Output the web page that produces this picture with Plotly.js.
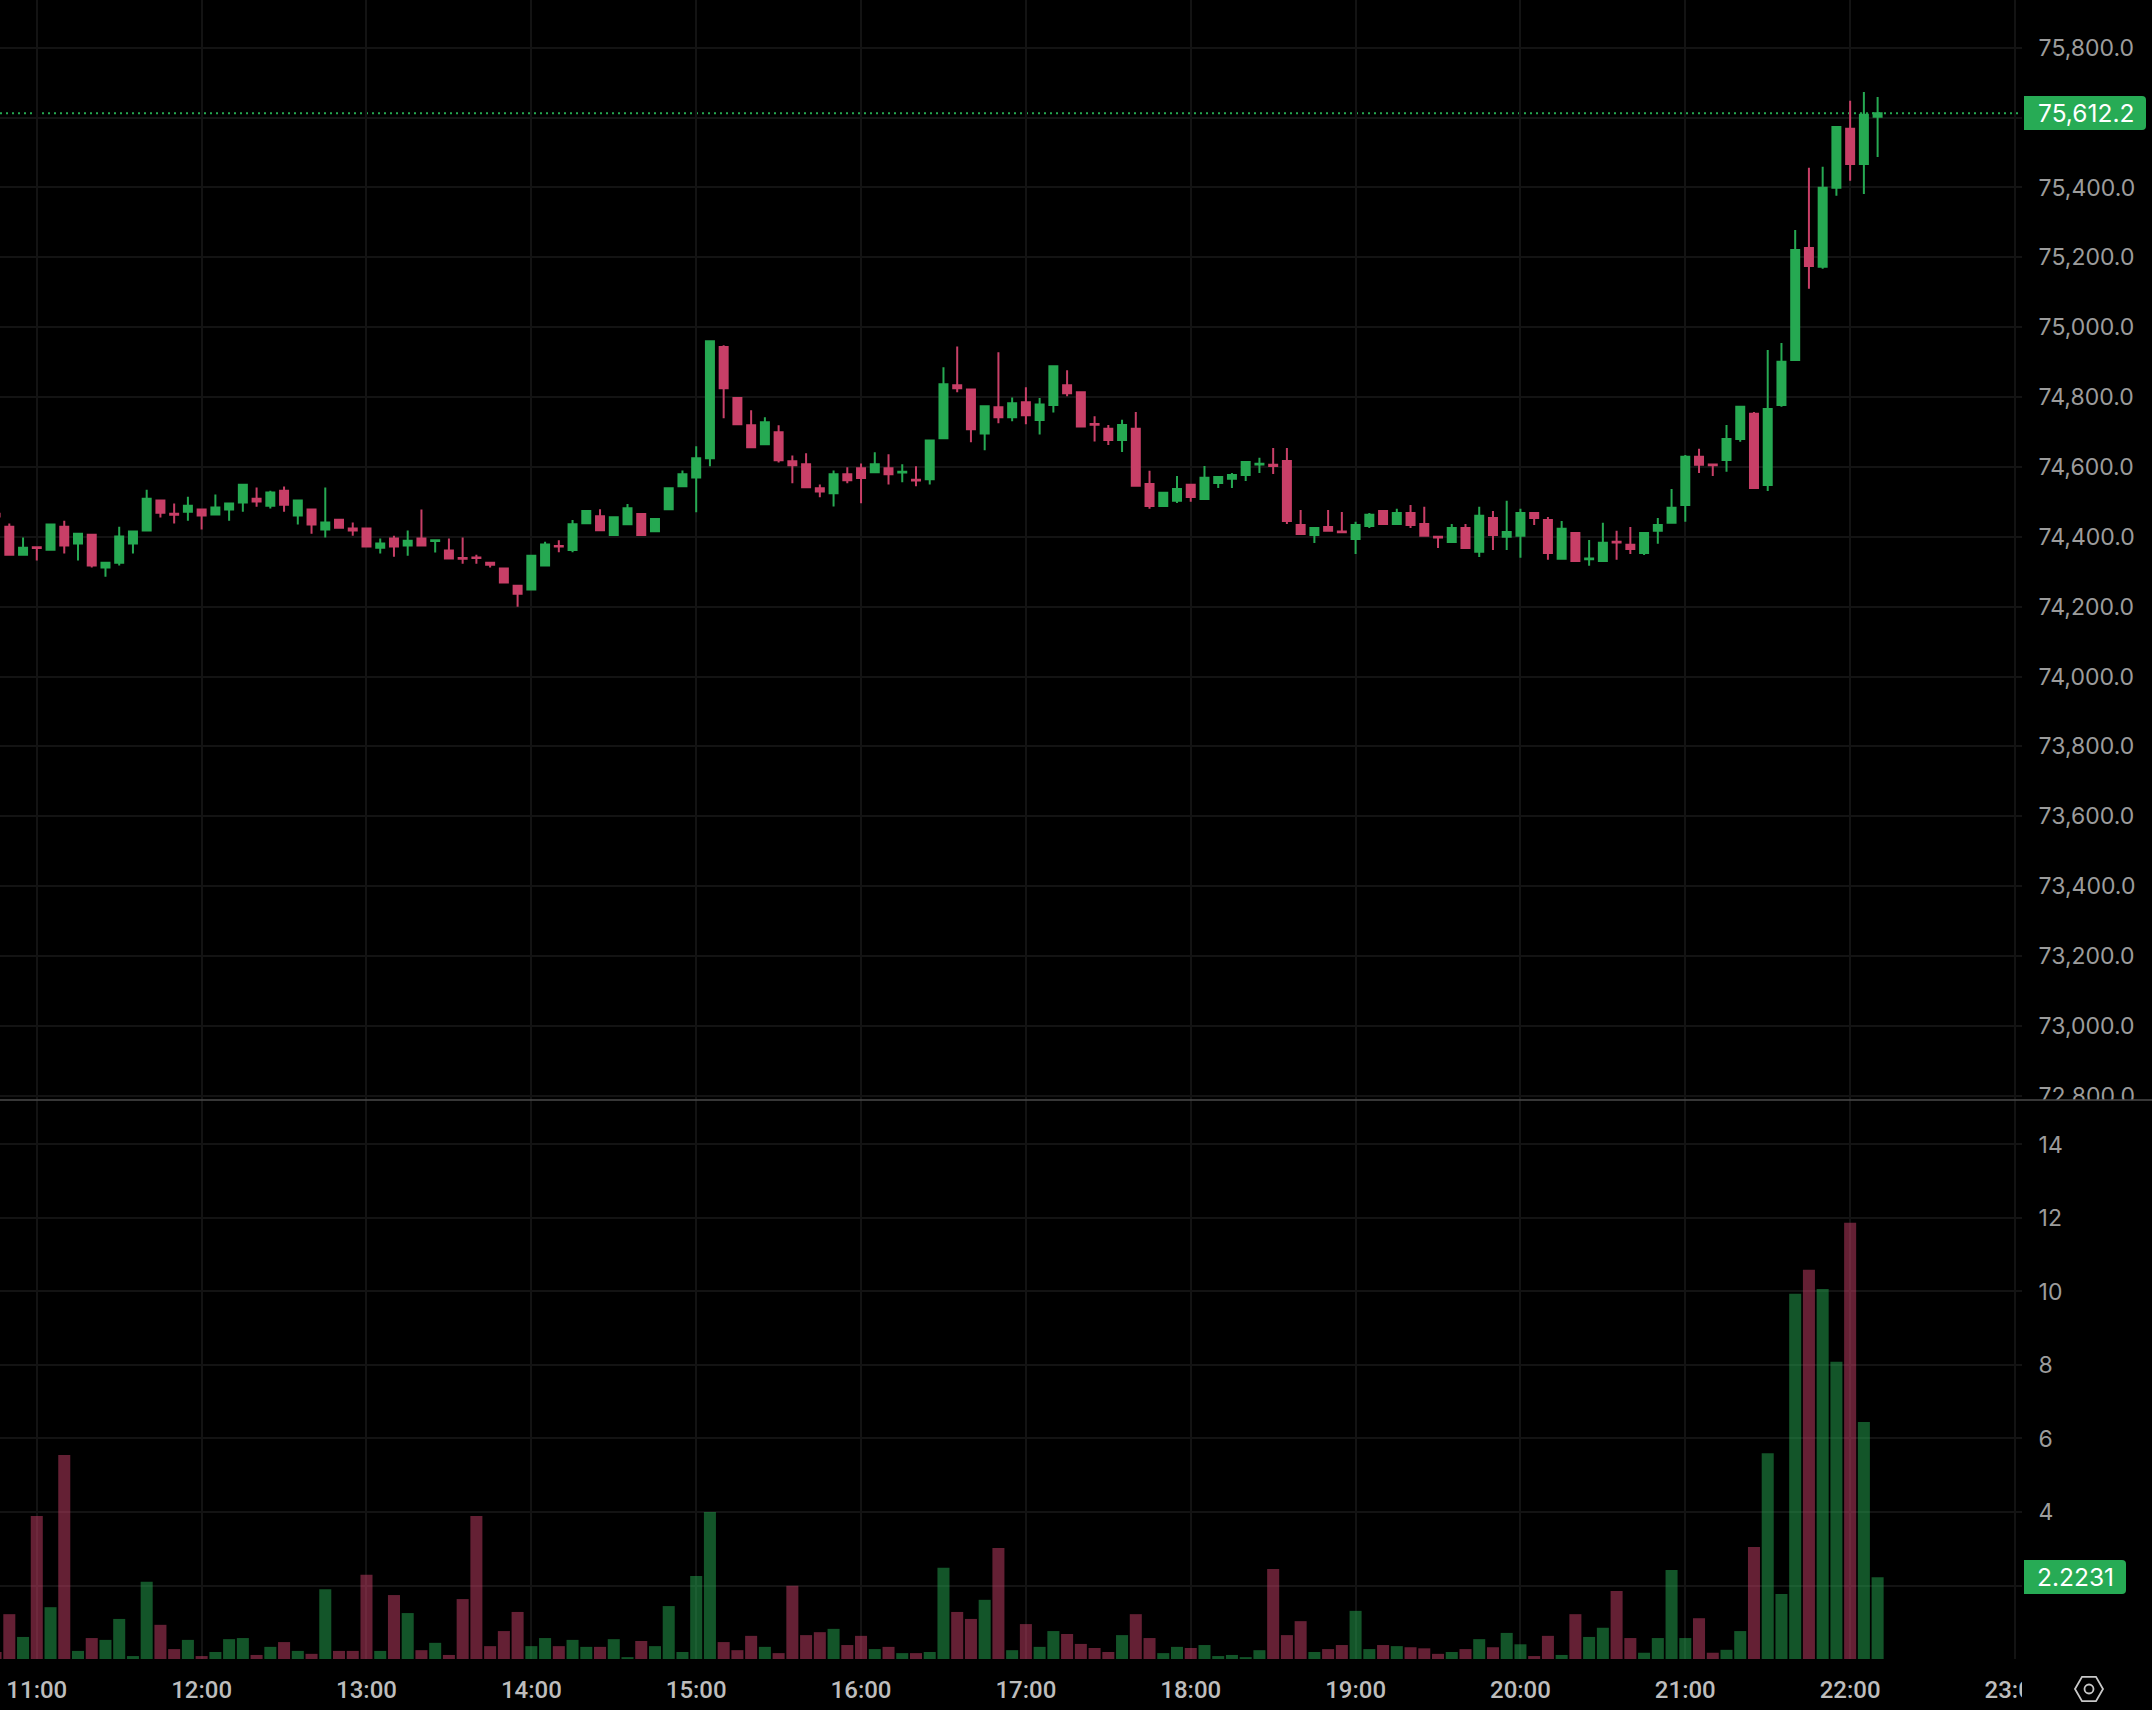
<!DOCTYPE html>
<html>
<head>
<meta charset="utf-8">
<script src="https://cdn.plot.ly/plotly-3.0.1.min.js"></script>
<style>html,body{margin:0;padding:0;background:#000;overflow:hidden}#chart{width:2152px;height:1710px}</style>
</head>
<body>
<div id="chart"></div>
<script>
const day = "2024-01-01 ";
const times = ["10:45","10:50","10:55","11:00","11:05","11:10","11:15","11:20","11:25","11:30","11:35","11:40","11:45","11:50","11:55",
"12:00","12:05","12:10","12:15","12:20","12:25","12:30","12:35","12:40","12:45","12:50","12:55",
"13:00","13:05","13:10","13:15","13:20","13:25","13:30","13:35","13:40","13:45","13:50","13:55",
"14:00","14:05","14:10","14:15","14:20","14:25","14:30","14:35","14:40","14:45","14:50","14:55",
"15:00","15:05","15:10","15:15","15:20","15:25","15:30","15:35","15:40","15:45","15:50","15:55",
"16:00","16:05","16:10","16:15","16:20","16:25","16:30","16:35","16:40","16:45","16:50","16:55",
"17:00","17:05","17:10","17:15","17:20","17:25","17:30","17:35","17:40","17:45","17:50","17:55",
"18:00","18:05","18:10","18:15","18:20","18:25","18:30","18:35","18:40","18:45","18:50","18:55",
"19:00","19:05","19:10","19:15","19:20","19:25","19:30","19:35","19:40","19:45","19:50","19:55",
"20:00","20:05","20:10","20:15","20:20","20:25","20:30","20:35","20:40","20:45","20:50","20:55",
"21:00","21:05","21:10","21:15","21:20","21:25","21:30","21:35","21:40","21:45","21:50","21:55",
"22:00","22:05","22:10"];
const opens = [74466,74429,74349,74370,74363,74429,74381,74406,74312,74326,74381,74418,74504,74466,74472,
74478,74464,74478,74498,74509,74489,74532,74461,74478,74421,74449,74424,
74424,74369,74395,74375,74395,74388,74361,74339,74341,74326,74309,74260,
74249,74318,74374,74362,74439,74459,74405,74436,74465,74416,74479,74545,
74570,74625,74943,74797,74719,74665,74699,74616,74608,74539,74525,74579,
74596,74585,74596,74584,74563,74565,74682,74834,74822,74696,74771,74742,
74785,74734,74777,74834,74814,74723,74709,74677,74709,74551,74488,74503,
74549,74508,74554,74566,74577,74607,74606,74617,74434,74405,74428,74415,
74394,74431,74474,74437,74468,74437,74400,74385,74425,74357,74454,74400,
74403,74468,74448,74337,74411,74336,74331,74386,74377,74354,74417,74440,
74491,74629,74607,74620,74680,74752,74548,74777,74906,75227,75173,75399,
75568,75467,75602];
const highs = [74466,74438,74398,74370,74435,74446,74409,74406,74326,74429,74415,74535,74504,74495,74515,
74478,74521,74495,74549,74541,74532,74544,74504,74478,74541,74449,74441,
74424,74395,74403,74418,74478,74390,74395,74398,74349,74326,74309,74260,
74346,74386,74390,74448,74474,74479,74456,74494,74465,74451,74539,74590,
74659,74960,74948,74797,74762,74742,74719,74633,74639,74550,74590,74599,
74610,74642,74636,74608,74602,74676,74885,74945,74822,74774,74928,74799,
74828,74797,74888,74877,74814,74745,74720,74735,74757,74589,74526,74574,
74549,74603,74571,74583,74614,74626,74654,74654,74477,74425,74477,74471,
74443,74468,74474,74480,74491,74486,74400,74437,74437,74486,74474,74503,
74480,74468,74457,74445,74411,74391,74440,74417,74428,74411,74454,74537,
74634,74652,74607,74720,74772,74757,74935,74955,75278,75456,75459,75573,
75648,75673,75659];
const lows = [74458,74346,74349,74332,74363,74352,74332,74312,74286,74318,74352,74418,74455,74438,74446,
74421,74464,74446,74472,74486,74481,74472,74435,74409,74398,74426,74403,
74372,74352,74343,74346,74375,74355,74338,74323,74323,74312,74269,74200,
74249,74318,74356,74356,74439,74419,74405,74436,74405,74416,74479,74545,
74470,74602,74739,74722,74656,74665,74613,74553,74542,74513,74487,74553,
74496,74585,74550,74556,74545,74550,74682,74814,74671,74648,74725,74731,
74722,74693,74756,74802,74716,74673,74663,74643,74546,74480,74488,74497,
74500,74508,74540,74540,74560,74583,74580,74437,74408,74382,74417,74413,
74351,74425,74437,74437,74425,74403,74368,74385,74368,74342,74362,74362,
74340,74434,74334,74337,74331,74317,74331,74334,74351,74348,74380,74440,
74443,74583,74574,74586,74672,74540,74531,74772,74906,75110,75167,75376,
75419,75381,75487];
const closes = [74458,74349,74369,74368,74435,74375,74409,74318,74326,74401,74415,74509,74469,74463,74489,
74461,74484,74495,74549,74501,74527,74492,74504,74435,74441,74426,74418,
74372,74381,74372,74389,74375,74390,74338,74337,74339,74320,74269,74237,
74346,74378,74372,74436,74474,74419,74456,74482,74405,74451,74539,74579,
74625,74960,74825,74722,74656,74728,74619,74605,74542,74530,74579,74562,
74568,74608,74579,74586,74561,74676,74837,74825,74708,74774,74742,74782,
74748,74779,74888,74811,74716,74721,74677,74720,74546,74488,74526,74537,
74514,74569,74571,74577,74614,74609,74603,74445,74408,74425,74417,74413,
74434,74463,74437,74468,74434,74403,74398,74425,74368,74460,74405,74414,
74468,74454,74354,74423,74331,74338,74383,74384,74365,74411,74434,74483,
74629,74606,74605,74680,74772,74540,74766,74901,75221,75175,75399,75573,
75467,75608,75612.2];
const volumes = [0.19,1.22,0.60,3.89,1.41,5.55,0.22,0.57,0.52,1.09,0.08,2.10,0.93,0.27,0.52,
0.08,0.19,0.54,0.57,0.11,0.33,0.46,0.22,0.14,1.90,0.22,0.22,
2.29,0.22,1.74,1.25,0.24,0.44,0.11,1.63,3.89,0.35,0.76,1.28,
0.35,0.57,0.35,0.52,0.33,0.33,0.54,0.05,0.49,0.35,1.44,0.19,
2.26,4.00,0.46,0.24,0.63,0.33,0.16,1.99,0.65,0.73,0.82,0.38,
0.63,0.27,0.33,0.16,0.16,0.19,2.48,1.28,1.09,1.61,3.02,0.24,
0.95,0.33,0.76,0.68,0.41,0.30,0.19,0.65,1.22,0.57,0.16,0.33,
0.30,0.38,0.08,0.11,0.05,0.24,2.45,0.65,1.03,0.19,0.27,0.38,
1.31,0.27,0.38,0.35,0.32,0.29,0.14,0.19,0.27,0.54,0.32,0.71,
0.40,0.08,0.63,0.11,1.22,0.60,0.85,1.85,0.57,0.17,0.57,2.42,
0.57,1.11,0.17,0.25,0.76,3.05,5.60,1.77,9.94,10.59,10.07,8.09,
11.87,6.45,2.2231];
const hourLabels = ["11:00","12:00","13:00","14:00","15:00","16:00","17:00","18:00","19:00","20:00","21:00","22:00","23:00"];
const priceTicks = [72800,73000,73200,73400,73600,73800,74000,74200,74400,74600,74800,75000,75200,75400,75600,75800];
const priceLabels = ["72,800.0","73,000.0","73,200.0","73,400.0","73,600.0","73,800.0","74,000.0","74,200.0","74,400.0","74,600.0","74,800.0","75,000.0","75,200.0","75,400.0","","75,800.0"];
const volumeTicks = [2,4,6,8,10,12,14];
const volumeLabels = ["","4","6","8","10","12","14"];
const lastPrice = 75612.2;
const lastVolume = 2.2231;
const lastPriceText = "75,612.2";
const lastVolumeText = "2.2231";

const GREEN = "#26A952", RED = "#C83F67";
const GREEN_VOL = "rgba(38,169,82,0.5)", RED_VOL = "rgba(200,63,103,0.5)";
const GRID = "#131313", TEXT = "#9c9c9c", BOLD = "#bdbdbd";
const W = 2022, H = 1659, SPLIT = 1100;
const px = x => x / W, py = y => (H - y) / H;

const xs = times.map(t => day + t);
const hourVals = hourLabels.map(t => day + t);
const xRange = [day + "10:46:36.6", day + "23:02:33"];

const candles = {
  type: "candlestick", x: xs, open: opens, high: highs, low: lows, close: closes,
  xaxis: "x", yaxis: "y", whiskerwidth: 0, line: {width: 2},
  increasing: {line: {color: GREEN, width: 2}, fillcolor: GREEN},
  decreasing: {line: {color: RED, width: 2}, fillcolor: RED},
  hoverinfo: "skip", showlegend: false
};
const bars = {
  type: "bar", x: xs, y: volumes, xaxis: "x2", yaxis: "y2",
  marker: {color: closes.map((c, i) => c >= opens[i] ? GREEN_VOL : RED_VOL), line: {width: 0}},
  hoverinfo: "skip", showlegend: false
};

function tagPath(x0, y0, x1, y1) {
  const r = 4;
  const X = px, Y = py;
  return `M${X(x0)},${Y(y0)} L${X(x1 - r)},${Y(y0)} Q${X(x1)},${Y(y0)} ${X(x1)},${Y(y0 + r)} L${X(x1)},${Y(y1 - r)} Q${X(x1)},${Y(y1)} ${X(x1 - r)},${Y(y1)} L${X(x0)},${Y(y1)} Z`;
}
const hexR = 14;
const hexCx = 2089, hexCy = 1689;
const hexPath = `M${-hexR},0 L${-hexR / 2},${hexR * 0.87} L${hexR / 2},${hexR * 0.87} L${hexR},0 L${hexR / 2},${-hexR * 0.87} L${-hexR / 2},${-hexR * 0.87} Z`;

const shapes = [
  {type: "line", xref: "paper", yref: "y", x0: 0, x1: 1, y0: lastPrice, y1: lastPrice, layer: "below",
   line: {color: GREEN, width: 2, dash: "2px,4px"}},
  {type: "rect", xref: "paper", yref: "paper", x0: px(W), x1: px(2152), y0: py(SPLIT), y1: py(SPLIT + 22), fillcolor: "#000", line: {width: 0}, layer: "above"},
  {type: "rect", xref: "paper", yref: "paper", x0: px(W), x1: px(2152), y0: py(H + 1), y1: py(1710), fillcolor: "#000", line: {width: 0}, layer: "above"},
  {type: "line", xref: "paper", yref: "paper", x0: 0, x1: px(2152), y0: py(SPLIT), y1: py(SPLIT), line: {color: "#4a4a4a", width: 1.5}, layer: "above"},
  {type: "path", xref: "paper", yref: "paper", path: tagPath(2024, 96, 2146, 130), fillcolor: "#27AB55", line: {width: 0}, layer: "above"},
  {type: "path", xref: "paper", yref: "paper", path: tagPath(2024, 1560, 2126, 1594), fillcolor: "#27AB55", line: {width: 0}, layer: "above"},
  {type: "path", xref: "paper", yref: "paper", xsizemode: "pixel", ysizemode: "pixel", xanchor: px(hexCx), yanchor: py(hexCy),
   path: hexPath, fillcolor: "rgba(0,0,0,0)", line: {color: "#c8c8c8", width: 1.8}, layer: "above"},
  {type: "circle", xref: "paper", yref: "paper", xsizemode: "pixel", ysizemode: "pixel", xanchor: px(hexCx), yanchor: py(hexCy),
   x0: -4.5, x1: 4.5, y0: -4.5, y1: 4.5, fillcolor: "rgba(0,0,0,0)", line: {color: "#c8c8c8", width: 1.8}, layer: "above"}
];
const annotations = [
  {xref: "paper", yref: "y", x: px(2036), y: lastPrice, xanchor: "left", yanchor: "middle", showarrow: false, text: lastPriceText, font: {color: "#fff", size: 24.5, family: "Inter"}},
  {xref: "paper", yref: "y2", x: px(2035), y: lastVolume, xanchor: "left", yanchor: "middle", showarrow: false, text: lastVolumeText, font: {color: "#fff", size: 24.5, family: "Inter"}}
];
const layout = {
  width: 2152, height: 1710, paper_bgcolor: "#000", plot_bgcolor: "#000",
  margin: {l: 0, r: 130, t: 0, b: 51, pad: 0}, showlegend: false, dragmode: false,
  font: {family: "Inter", color: TEXT, size: 23},
  boxgap: 0.418, boxgroupgap: 0, bargap: 0.125,
  xaxis: {type: "date", range: xRange, domain: [0, 1], anchor: "y", rangeslider: {visible: false},
    tickmode: "array", tickvals: hourVals, ticktext: hourLabels, showticklabels: false, ticks: "",
    showgrid: true, gridcolor: GRID, gridwidth: 2, zeroline: false, showline: false, fixedrange: true},
  xaxis2: {type: "date", range: xRange, domain: [0, 1], anchor: "y2",
    tickmode: "array", tickvals: hourVals, ticktext: hourLabels, showticklabels: true,
    ticks: "outside", ticklen: 9, tickcolor: "rgba(0,0,0,0)", tickfont: {family: "Roboto", size: 24, color: BOLD, weight: 500},
    showgrid: true, gridcolor: GRID, gridwidth: 2, zeroline: false, showline: false, fixedrange: true},
  yaxis: {domain: [py(SPLIT), 1], range: [72788, 75936.5], anchor: "x", side: "right",
    tickmode: "array", tickvals: priceTicks, ticktext: priceLabels, ticks: "outside", ticklen: 11, tickcolor: "rgba(0,0,0,0)",
    tickfont: {family: "Inter", size: 23, color: TEXT}, showgrid: true, gridcolor: GRID, gridwidth: 2, zeroline: false, showline: false, fixedrange: true},
  yaxis2: {domain: [0, py(SPLIT)], range: [0, 15.21], anchor: "x2", side: "right",
    tickmode: "array", tickvals: volumeTicks, ticktext: volumeLabels, ticks: "outside", ticklen: 11, tickcolor: "rgba(0,0,0,0)",
    tickfont: {family: "Inter", size: 23, color: TEXT}, showgrid: true, gridcolor: GRID, gridwidth: 2, zeroline: false, showline: false, fixedrange: true},
  shapes: shapes, annotations: annotations
};
Plotly.newPlot("chart", [bars, candles], layout, {displayModeBar: false, staticPlot: true});
</script>
</body>
</html>
